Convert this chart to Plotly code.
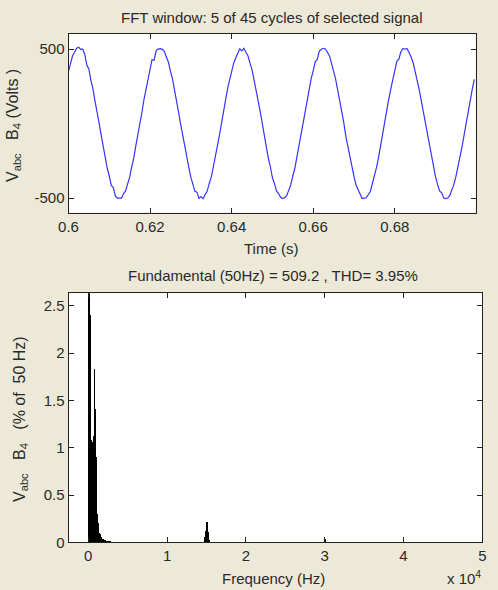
import plotly.graph_objects as go

W, H = 498, 590

# ---- Top panel: sampled signal (Volts), 0.5 ms sampling from t = 0.6 s ----
T_START = 0.6
T_STEP = 0.0005
signal = [
    350, 412, 455, 478, 505, 512, 498, 500, 462, 392, 365, 290, 232, 150, 84, 5, -76, -160, -225, -300,
    -352, -415, -430, -488, -500, -502, -500, -470, -452, -405, -360, -290, -232, -150, -82, 4, 74, 160, 226, 300,
    352, 430, 425, 490, 500, 503, 498, 484, 446, 412, 350, 300, 225, 160, 75, -4, -82, -150, -232, -294,
    -360, -405, -455, -460, -502, -490, -505, -476, -455, -402, -360, -292, -230, -152, -80, 3, 82, 152, 233, 292,
    360, 405, 440, 475, 502, 488, 505, 478, 455, 405, 362, 293, 233, 152, 82, 2, -80, -152, -233, -290,
    -362, -403, -452, -470, -495, -503, -498, -484, -445, -412, -352, -300, -225, -160, -76, -2, 78, 158, 224, 302,
    354, 414, 430, 486, 498, 505, 500, 476, 454, 404, 358, 298, 226, 158, 74, 6, -84, -152, -226, -302,
    -354, -412, -445, -466, -503, -500, -498, -478, -456, -404, -356, -298, -232, -150, -84, 2, 76, 160, 228, 296,
    356, 418, 432, 482, 503, 499, 504, 480, 448, 410, 354, 300, 228, 154, 80, -3, -76, -158, -228, -298,
    -358, -408, -452, -465, -500, -504, -500, -482, -448, -408, -355, -295, -230, -156, -78, 4, 80, 155, 230, 296,
]
top_xticks = [0.6, 0.62, 0.64, 0.66, 0.68]
top_xticklabels = ["0.6", "0.62", "0.64", "0.66", "0.68"]
top_yticks = [-500, 500]
top_yticklabels = ["-500", "500"]

# ---- Bottom panel: harmonic spectrum (% of 50 Hz), 50 Hz bins ----
F_STEP = 50
low_start = 0
low_mag = [
    0.0, 100.0, 2.4, 2.4, 2.3, 1.08, 1.08, 1.05, 1.06, 1.0,
    0.82, 0.8, 1.12, 1.12, 1.1, 1.83, 1.12, 1.41, 0.9, 0.5,
    0.48, 0.3, 0.22, 0.2, 0.14, 0.12, 0.1, 0.1, 0.08, 0.07,
    0.06, 0.05, 0.04, 0.04, 0.03, 0.03, 0.03, 0.02, 0.02, 0.02,
    0.015, 0.015, 0.01, 0.01, 0.01, 0.008, 0.008, 0.006, 0.006, 0.005,
    0.005, 0.004, 0.004, 0.003, 0.003, 0.003,
]
mid_start = 14700
mid_mag = [0.02, 0.05, 0.11, 0.12, 0.11, 0.21, 0.21, 0.11, 0.12, 0.11, 0.05, 0.02]
high_start = 29950
high_mag = [0.02, 0.03, 0.02]
bot_xticks = [0, 10000, 20000, 30000, 40000, 50000]
bot_xticklabels = ["0", "1", "2", "3", "4", "5"]
bot_yticks = [0, 0.5, 1, 1.5, 2, 2.5]
bot_yticklabels = ["0", "0.5", "1", "1.5", "2", "2.5"]

FONT = "Liberation Sans, Arial, sans-serif"
TXT = "#2a2a2a"
BG = "#ECE9D8"


def px(x):
    return x / W


def py(y):
    return 1 - y / H


fig = go.Figure()
fig.add_trace(go.Scatter(y=signal, x0=T_START, dx=T_STEP, mode="lines",
                         line=dict(color="#3434ff", width=1.2),
                         xaxis="x", yaxis="y", showlegend=False))
for start, mags in [(low_start, low_mag), (mid_start, mid_mag), (high_start, high_mag)]:
    fig.add_trace(go.Bar(y=mags, x0=start, dx=F_STEP, width=F_STEP,
                         marker=dict(color="black", line=dict(width=0)),
                         xaxis="x2", yaxis="y2", showlegend=False))

axis_common = dict(showline=True, linecolor="#222", linewidth=1, mirror="ticks",
                   ticks="inside", ticklen=5, tickcolor="#222", showgrid=False,
                   zeroline=False, automargin=False,
                   tickfont=dict(family=FONT, size=15, color=TXT),
                   tickmode="array")

fig.update_layout(
    width=W, height=H,
    margin=dict(l=0, r=0, t=0, b=0, autoexpand=False),
    paper_bgcolor=BG, plot_bgcolor="white",
    font=dict(family=FONT, size=15, color=TXT),
    bargap=0, barmode="overlay",
    xaxis=dict(domain=[px(68.5), px(475.5)], anchor="y", range=[0.6, 0.6998],
               tickvals=top_xticks, ticktext=top_xticklabels, **axis_common),
    yaxis=dict(domain=[py(212.5), py(34)], anchor="x", range=[-597, 601],
               tickvals=top_yticks, ticktext=top_yticklabels, **axis_common),
    xaxis2=dict(domain=[px(68.5), px(482.3)], anchor="y2", range=[-2510, 50000],
                tickvals=bot_xticks, ticktext=bot_xticklabels, **axis_common),
    yaxis2=dict(domain=[py(542.3), py(293.3)], anchor="x2", range=[0, 2.634],
                tickvals=bot_yticks, ticktext=bot_yticklabels, **axis_common),
)

ann = [
    dict(text="FFT window: 5 of 45 cycles of selected signal", x=px(272), y=py(18), size=15),
    dict(text="Time (s)", x=px(271), y=py(248), size=15),
    dict(text="Fundamental (50Hz) = 509.2 , THD= 3.95%", x=px(273), y=py(275), size=15),
    dict(text="Frequency (Hz)", x=px(273), y=py(578), size=15),
    dict(text="V<sub>abc</sub>&nbsp;&nbsp;&nbsp;B<sub>4</sub>&nbsp;(Volts&nbsp;)",
         x=px(14), y=py(126), textangle=-90, size=16),
    dict(text="V<sub>abc</sub>&nbsp;&nbsp;&nbsp;B<sub>4</sub>&nbsp;&nbsp;&nbsp;(%&nbsp;of&nbsp;&nbsp;50&nbsp;Hz)",
         x=px(20), y=py(419), textangle=-90, size=16),
]
for a in ann:
    size = a.pop("size")
    fig.add_annotation(xref="paper", yref="paper", showarrow=False,
                       xanchor="center", yanchor="middle",
                       font=dict(family=FONT, size=size, color=TXT), **a)
fig.add_annotation(xref="paper", yref="paper", showarrow=False, text="x 10<sup>4</sup>",
                   x=px(483), y=py(589), xanchor="right", yanchor="bottom",
                   font=dict(family=FONT, size=15, color=TXT))

fig.write_html("out.html")
